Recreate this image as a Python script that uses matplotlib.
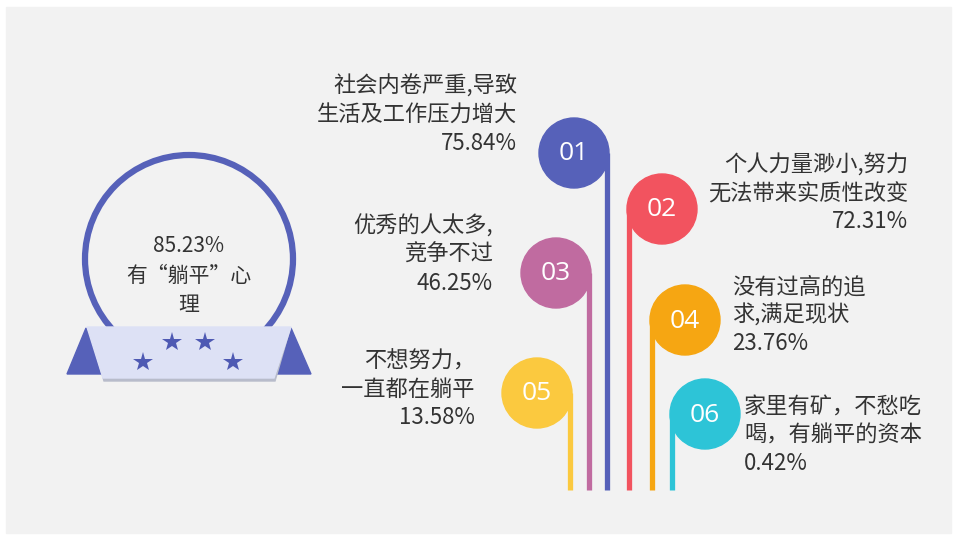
import matplotlib.pyplot as plt
from matplotlib.patches import Circle, Polygon, Rectangle

plt.rcParams['font.family'] = ['Noto Sans CJK SC', 'DejaVu Sans']

# 调查结果数据
numbers = ['01', '02', '03', '04', '05', '06']
reasons = [
    ['社会内卷严重,导致', '生活及工作压力增大'],
    ['个人力量渺小,努力', '无法带来实质性改变'],
    ['优秀的人太多,', '竞争不过'],
    ['没有过高的追', '求,满足现状'],
    ['不想努力，', '一直都在躺平'],
    ['家里有矿，不愁吃', '喝，有躺平的资本'],
]
shares = [75.84, 72.31, 46.25, 23.76, 13.58, 0.42]
total_share = 85.23
total_label = ['有“躺平”心', '理']

colors = ['#5661B9', '#F2535F', '#C06BA0', '#F6A612', '#FBC93F', '#2DC4D7']

# 版式: 圆心 (x, y)、半径、茎在圆的哪一侧、文字锚点
centers = [(574, 153), (662, 209), (556, 273), (685, 320), (537, 393), (705, 414)]
radius = 35
stem_side = [1, -1, 1, -1, 1, -1]
text_anchor = [(517, 86, 'right'), (908, 165, 'right'), (493, 226, 'right'),
               (732, 287, 'left'), (475, 361, 'right'), (744, 407, 'left')]
stem_bottom = 490
line_gap = 28.5
text_color = '#333333'

fig = plt.figure(figsize=(9.56, 5.39), dpi=100, facecolor='white')
ax = fig.add_axes([0, 0, 1, 1])
ax.set_xlim(0, 956)
ax.set_ylim(539, 0)
ax.axis('off')

ax.add_patch(Rectangle((6, 7), 945, 526, color='#F2F2F2', zorder=0))

# 左侧徽章
bx, by, br = 189, 259, 104
ax.add_patch(Circle((bx, by), br, fill=False, ec='#5661B9', lw=4.5, zorder=2))
ax.text(bx, 246, f'{total_share:.2f}%', ha='center', va='center',
        fontsize=15, color=text_color, zorder=3)
ax.text(bx, 276, total_label[0], ha='center', va='center',
        fontsize=15, color=text_color, zorder=3)
ax.text(bx, 305, total_label[1], ha='center', va='center',
        fontsize=15, color=text_color, zorder=3)

# 丝带
ax.add_patch(Polygon([(67, 374), (86, 328), (106, 374)], color='#5661B9', zorder=3))
ax.add_patch(Polygon([(272, 374), (291, 328), (311, 374)], color='#5661B9', zorder=3))
ax.add_patch(Polygon([(89, 329), (290, 329), (275, 381), (104, 381)],
                     color='#B8BCCB', zorder=4))
ax.add_patch(Polygon([(87, 327), (291, 327), (274, 378), (103, 378)],
                     color='#DDE1F5', zorder=5))
star_x = [143, 172, 205, 233]
star_y = [362, 342, 342, 362]
ax.plot(star_x, star_y, ls='none', marker='*', ms=15, color='#4E59B3',
        markeredgewidth=0, zorder=6)

# 编号圆与竖茎
for num, (cx, cy), side, col in zip(numbers, centers, stem_side, colors):
    sx = cx + side * (radius - 2)
    ax.plot([sx, sx], [cy, stem_bottom], color=col, lw=3.8,
            solid_capstyle='butt', zorder=2)
    ax.add_patch(Circle((cx, cy), radius, color=col, zorder=3))
    ax.text(cx, cy + 1, num, ha='center', va='center', color='white',
            fontsize=19, family=['Open Sans', 'DejaVu Sans'], zorder=4)

# 原因与占比
for lines, share, (tx, ty, ha) in zip(reasons, shares, text_anchor):
    for i, s in enumerate(lines):
        ax.text(tx, ty + i * line_gap, s, ha=ha, va='center',
                fontsize=16, color=text_color)
    ax.text(tx, ty + len(lines) * line_gap, f'{share:.2f}%', ha=ha,
            va='center', fontsize=16, color=text_color)

fig.savefig('out.png', dpi=100, facecolor='white')
